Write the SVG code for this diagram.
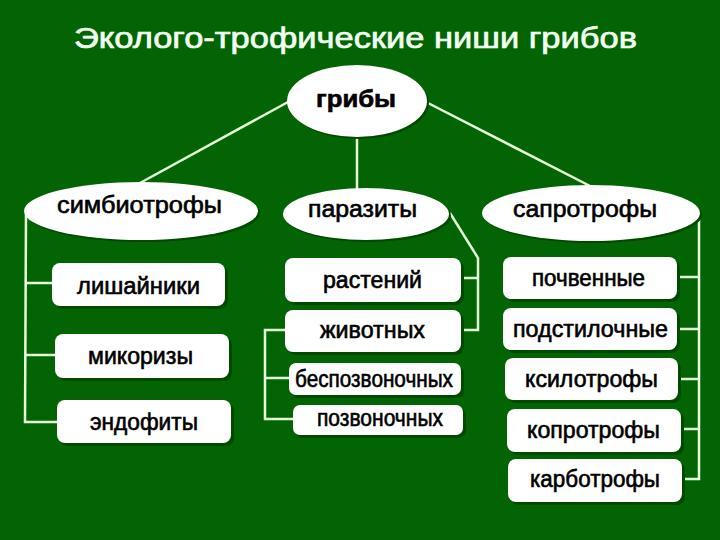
<svg xmlns="http://www.w3.org/2000/svg" width="720" height="540" viewBox="0 0 720 540">
<style>
.bg{fill:#036403}
.box{fill:#ffffff}
.sh{fill:#004a00}
.t{font-family:"Liberation Sans","DejaVu Sans",sans-serif;font-size:23px;fill:#000000;stroke:#000000;stroke-width:0.6}
.ttl{font-family:"Liberation Sans","DejaVu Sans",sans-serif;font-size:29px;fill:#f2fff0;stroke:#f2fff0;stroke-width:0.7}
.ln{fill:none;stroke:#e6ffdc;stroke-width:2.5}
</style>
<rect class="bg" x="0" y="0" width="720" height="540"/>
<text class="ttl" x="74" y="48" textLength="563" lengthAdjust="spacingAndGlyphs">Эколого-трофические ниши грибов</text>
<g id="connectors">
<line class="ln" x1="288" y1="102" x2="140" y2="183"/>
<line class="ln" x1="357" y1="137" x2="357" y2="189"/>
<line class="ln" x1="426" y1="102" x2="590" y2="186"/>
<polyline class="ln" points="26,214 25,422 57,422"/>
<line class="ln" x1="25" y1="283" x2="52" y2="283"/>
<line class="ln" x1="25" y1="355" x2="55" y2="355"/>
<polyline class="ln" points="450,213 478,258 478,330 461,330"/>
<line class="ln" x1="461" y1="278" x2="478" y2="278"/>
<polyline class="ln" points="285,330 265,330 265,419 293,419"/>
<line class="ln" x1="265" y1="378" x2="289" y2="378"/>
<polyline class="ln" points="699,213 699,479 682,479"/>
<line class="ln" x1="677" y1="277" x2="699" y2="277"/>
<line class="ln" x1="677" y1="329" x2="699" y2="329"/>
<line class="ln" x1="678" y1="379" x2="699" y2="379"/>
<line class="ln" x1="681" y1="429" x2="699" y2="429"/>
</g>
<g id="griby">
<ellipse class="sh" cx="359" cy="103" rx="70" ry="36"/>
<ellipse class="box" cx="357" cy="101" rx="70" ry="36"/>
<text class="t" x="316" y="107" font-weight="bold" font-size="24" textLength="80" lengthAdjust="spacingAndGlyphs">грибы</text>
</g>
<g id="simbiotrofy">
<ellipse class="sh" cx="143" cy="213" rx="117" ry="29"/>
<ellipse class="box" cx="141" cy="211" rx="117" ry="29"/>
<text class="t" x="57" y="213" textLength="165" lengthAdjust="spacingAndGlyphs">симбиотрофы</text>
</g>
<g id="parazity">
<ellipse class="sh" cx="368" cy="216" rx="83" ry="26"/>
<ellipse class="box" cx="366" cy="214" rx="83" ry="26"/>
<text class="t" x="308" y="217" textLength="109" lengthAdjust="spacingAndGlyphs">паразиты</text>
</g>
<g id="saprotrofy">
<ellipse class="sh" cx="593" cy="215" rx="109" ry="28"/>
<ellipse class="box" cx="591" cy="213" rx="109" ry="28"/>
<text class="t" x="513" y="217" textLength="144" lengthAdjust="spacingAndGlyphs">сапротрофы</text>
</g>
<g id="lishainiki">
<rect class="sh" x="55" y="266" width="173" height="43" rx="8"/>
<rect class="box" x="52" y="263" width="173" height="43" rx="8"/>
<text class="t" x="77" y="294" textLength="123" lengthAdjust="spacingAndGlyphs">лишайники</text>
</g>
<g id="mikorizy">
<rect class="sh" x="58" y="337" width="174" height="44" rx="8"/>
<rect class="box" x="55" y="334" width="174" height="44" rx="8"/>
<text class="t" x="88" y="364" textLength="105" lengthAdjust="spacingAndGlyphs">микоризы</text>
</g>
<g id="endofity">
<rect class="sh" x="60" y="403" width="174" height="43" rx="8"/>
<rect class="box" x="57" y="400" width="174" height="43" rx="8"/>
<text class="t" x="90" y="430" textLength="108" lengthAdjust="spacingAndGlyphs">эндофиты</text>
</g>
<g id="rastenii">
<rect class="sh" x="288" y="261" width="176" height="44" rx="8"/>
<rect class="box" x="285" y="258" width="176" height="44" rx="8"/>
<text class="t" x="323" y="288" textLength="99" lengthAdjust="spacingAndGlyphs">растений</text>
</g>
<g id="zhivotnyh">
<rect class="sh" x="288" y="313" width="176" height="42" rx="8"/>
<rect class="box" x="285" y="310" width="176" height="42" rx="8"/>
<text class="t" x="320" y="338" textLength="105" lengthAdjust="spacingAndGlyphs">животных</text>
</g>
<g id="bespozvonochnyh">
<rect class="sh" x="292" y="366" width="172" height="32" rx="7"/>
<rect class="box" x="289" y="363" width="172" height="32" rx="7"/>
<text class="t" x="295" y="387" font-size="21" textLength="158" lengthAdjust="spacingAndGlyphs">беспозвоночных</text>
</g>
<g id="pozvonochnyh">
<rect class="sh" x="296" y="408" width="170" height="30" rx="7"/>
<rect class="box" x="293" y="405" width="170" height="30" rx="7"/>
<text class="t" x="317" y="426" font-size="19" textLength="126" lengthAdjust="spacingAndGlyphs">позвоночных</text>
</g>
<g id="pochvennye">
<rect class="sh" x="506" y="260" width="174" height="42" rx="8"/>
<rect class="box" x="503" y="257" width="174" height="42" rx="8"/>
<text class="t" x="532" y="286" textLength="113" lengthAdjust="spacingAndGlyphs">почвенные</text>
</g>
<g id="podstilochnye">
<rect class="sh" x="506" y="311" width="174" height="42" rx="8"/>
<rect class="box" x="503" y="308" width="174" height="42" rx="8"/>
<text class="t" x="513" y="337" textLength="155" lengthAdjust="spacingAndGlyphs">подстилочные</text>
</g>
<g id="ksilotrofy">
<rect class="sh" x="508" y="361" width="173" height="42" rx="8"/>
<rect class="box" x="505" y="358" width="173" height="42" rx="8"/>
<text class="t" x="525" y="387" textLength="133" lengthAdjust="spacingAndGlyphs">ксилотрофы</text>
</g>
<g id="koprotrofy">
<rect class="sh" x="510" y="412" width="174" height="43" rx="8"/>
<rect class="box" x="507" y="409" width="174" height="43" rx="8"/>
<text class="t" x="527" y="438" textLength="133" lengthAdjust="spacingAndGlyphs">копротрофы</text>
</g>
<g id="karbotrofy">
<rect class="sh" x="511" y="462" width="174" height="43" rx="8"/>
<rect class="box" x="508" y="459" width="174" height="43" rx="8"/>
<text class="t" x="530" y="487" textLength="130" lengthAdjust="spacingAndGlyphs">карботрофы</text>
</g>
</svg>
